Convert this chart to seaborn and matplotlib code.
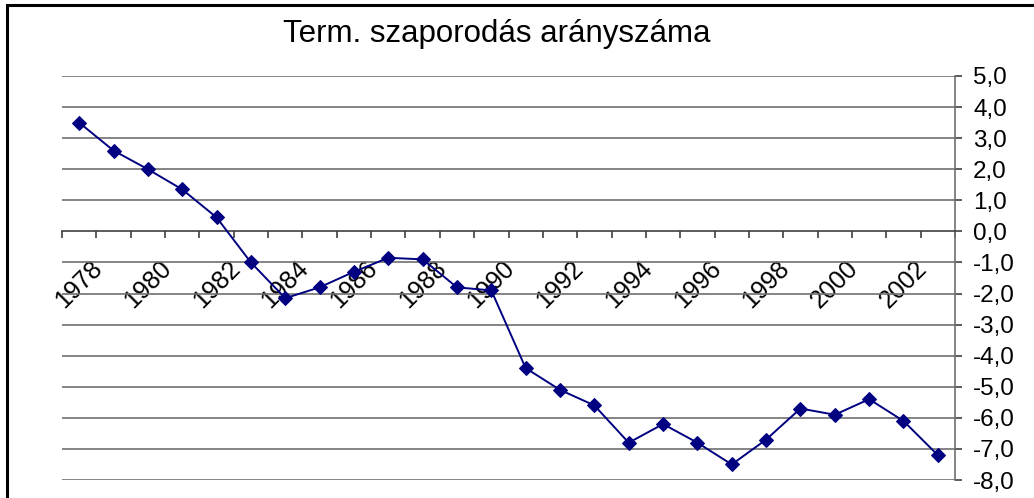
import matplotlib
matplotlib.use("Agg")
import matplotlib.pyplot as plt
import seaborn as sns
import pandas as pd
from matplotlib.patches import Rectangle
from matplotlib.ticker import FuncFormatter

years = list(range(1978, 2004))
values = [3.5, 2.6, 2.0, 1.35, 0.45, -1.0, -2.15, -1.8, -1.3, -0.85, -0.9, -1.8, -1.9,
          -4.4, -5.1, -5.6, -6.8, -6.2, -6.8, -7.5, -6.7, -5.7, -5.9, -5.4, -6.1, -7.2]
title = "Term. szaporodás arányszáma"
label_years = list(range(1978, 2003, 2))
y_ticks = list(range(-8, 6))

sns.set_style("white")
plt.rcParams['font.family'] = ['Liberation Sans', 'DejaVu Sans']
plt.rcParams['text.color'] = 'black'
plt.rcParams['xtick.color'] = 'black'
plt.rcParams['ytick.color'] = 'black'

df = pd.DataFrame({"year": years, "value": values})

fig = plt.figure(figsize=(10.34, 4.98), dpi=100)
ax = fig.add_axes([62/1034, 1-480/498, (955-62)/1034, (480-76)/498])

for v in y_ticks:
    if v != 0:
        ax.axhline(v, color="#707070", lw=1.2, zorder=1)

sns.lineplot(data=df, x="year", y="value", ax=ax, color="#000080", lw=1.4,
             marker="D", markersize=7, markeredgecolor="#000080", zorder=3)

ax.set_xlim(1977.5, 2003.5)
ax.set_ylim(-8, 5)
ax.set_xlabel("")
ax.set_ylabel("")

# spines
for s in ["left", "top"]:
    ax.spines[s].set_visible(False)
ax.spines["right"].set_color("#707070")
ax.spines["right"].set_linewidth(1.2)
ax.spines["bottom"].set_position(("data", 0))
ax.spines["bottom"].set_color("#404040")
ax.spines["bottom"].set_linewidth(1.2)

# y axis on right
ax.yaxis.tick_right()
ax.set_yticks(y_ticks)
ax.yaxis.set_major_formatter(FuncFormatter(lambda v, p: f"{v:.1f}".replace(".", ",")))
ax.tick_params(axis="y", which="major", right=True, length=5, width=1.2, color="#404040",
               labelsize=17.5, pad=8, direction="out", labelcolor="black")

# x axis: ticks at category boundaries, labels at centres
ax.set_xticks([y + 0.5 for y in range(1977, 2004)], minor=True)
ax.set_xticks(label_years)
ax.set_xticklabels([str(y) for y in label_years], rotation=45, fontsize=18,
                   rotation_mode="anchor", ha="center", va="center", color="black")
ax.tick_params(axis="x", which="minor", bottom=True, length=5, width=1.2, color="#404040",
               direction="out")
ax.tick_params(axis="x", which="major", bottom=True, length=0, pad=38)

fig.text(496.5/1034, 1 - 41.7/498, title, ha="center", va="baseline", fontsize=22.5, color="black")

fig.patches.append(Rectangle((7/1034, -0.1), 1.2, 1.1 - 5.5/498,
                             transform=fig.transFigure, fill=False, ec="black", lw=2.2))

fig.savefig("out.png", dpi=100)
